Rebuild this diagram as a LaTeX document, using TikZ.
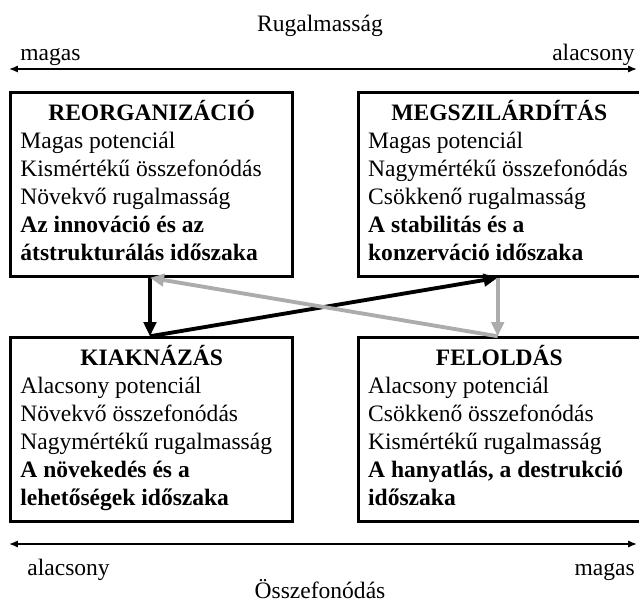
\documentclass[tikz,border=0pt]{standalone}
\usepackage{fontspec}
\setmainfont{Liberation Serif}
\usetikzlibrary{arrows.meta,positioning}

\begin{document}
\begin{tikzpicture}[x=0.02cm,y=-0.02cm,
    every node/.style={font=\fontsize{13.4}{15.9}\selectfont},
    phase/.style={draw,line width=1.6pt,text width=5.25cm,align=flush left,
      minimum height=3.68cm,inner xsep=0.2cm,inner ysep=0pt,
      execute at end node=\strut},
    axtext/.style={inner sep=0pt},
    axisline/.style={line width=0.8pt,{Latex[length=5pt,width=4pt]}-{Latex[length=5pt,width=4pt]}},
    turn/.style={line width=2.2pt,-{Triangle[length=8pt,width=7pt]}},
    turngray/.style={turn,draw={rgb,255:red,172;green,172;blue,172}}]
  \useasboundingbox (0,0) rectangle (639,601);

  % the four phases
  \node[phase,anchor=north west] (reorg) at (9,91)
    {{\centering\strut\textbf{REORGANIZÁCIÓ}\par}
     Magas potenciál\\
     Kismértékű összefonódás\\
     Növekvő rugalmasság\\
     \textbf{Az innováció és az}\\
     \textbf{átstrukturálás időszaka}};
  \node[phase] (megsz) [right=1.25cm of reorg]
    {{\centering\strut\textbf{MEGSZILÁRDÍTÁS}\par}
     Magas potenciál\\
     Nagymértékű összefonódás\\
     Csökkenő rugalmasság\\
     \textbf{A stabilitás és a}\\
     \textbf{konzerváció időszaka}};
  \node[phase] (kiakn) [below=1.17cm of reorg]
    {{\centering\strut\textbf{KIAKNÁZÁS}\par}
     Alacsony potenciál\\
     Növekvő összefonódás\\
     Nagymértékű rugalmasság\\
     \textbf{A növekedés és a}\\
     \textbf{lehetőségek időszaka}};
  \node[phase] (felold) [below=1.17cm of megsz]
    {{\centering\strut\textbf{FELOLDÁS}\par}
     Alacsony potenciál\\
     Csökkenő összefonódás\\
     Kismértékű rugalmasság\\
     \textbf{A hanyatlás, a destrukció}\\
     \textbf{időszaka}};

  % cycle
  \coordinate (ra) at ([xshift=2.82cm]reorg.south west);
  \coordinate (kb) at ([xshift=2.82cm]kiakn.north west);
  \coordinate (mc) at ([xshift=2.82cm]megsz.south west);
  \coordinate (fd) at ([xshift=2.82cm]felold.north west);
  \draw[turn] (ra) -- (kb);
  \draw[turn] (kb) -- (mc);
  \draw[turngray] (mc) -- (fd);
  \draw[turngray] (fd) -- (ra);

  % axes
  \coordinate (topl) at (9,69);
  \coordinate (topr) at (637,69);
  \coordinate (botl) at (9,544);
  \coordinate (botr) at (637,544);
  \draw[axisline] (topl) -- (topr);
  \draw[axisline] (botl) -- (botr);
  \node[axtext,anchor=base] (rugal) at (320,32) {Rugalmasság};
  \node[axtext,anchor=base west] (magasT) at (20,61) {magas};
  \node[axtext,anchor=base east] (alacsT) at (635,61) {alacsony};
  \node[axtext,anchor=base west] (alacsB) at (27,575) {alacsony};
  \node[axtext,anchor=base east] (magasB) at (635,575) {magas};
  \node[axtext,anchor=base] (osszef) at (320,598) {Összefonódás};
\end{tikzpicture}
\end{document}
